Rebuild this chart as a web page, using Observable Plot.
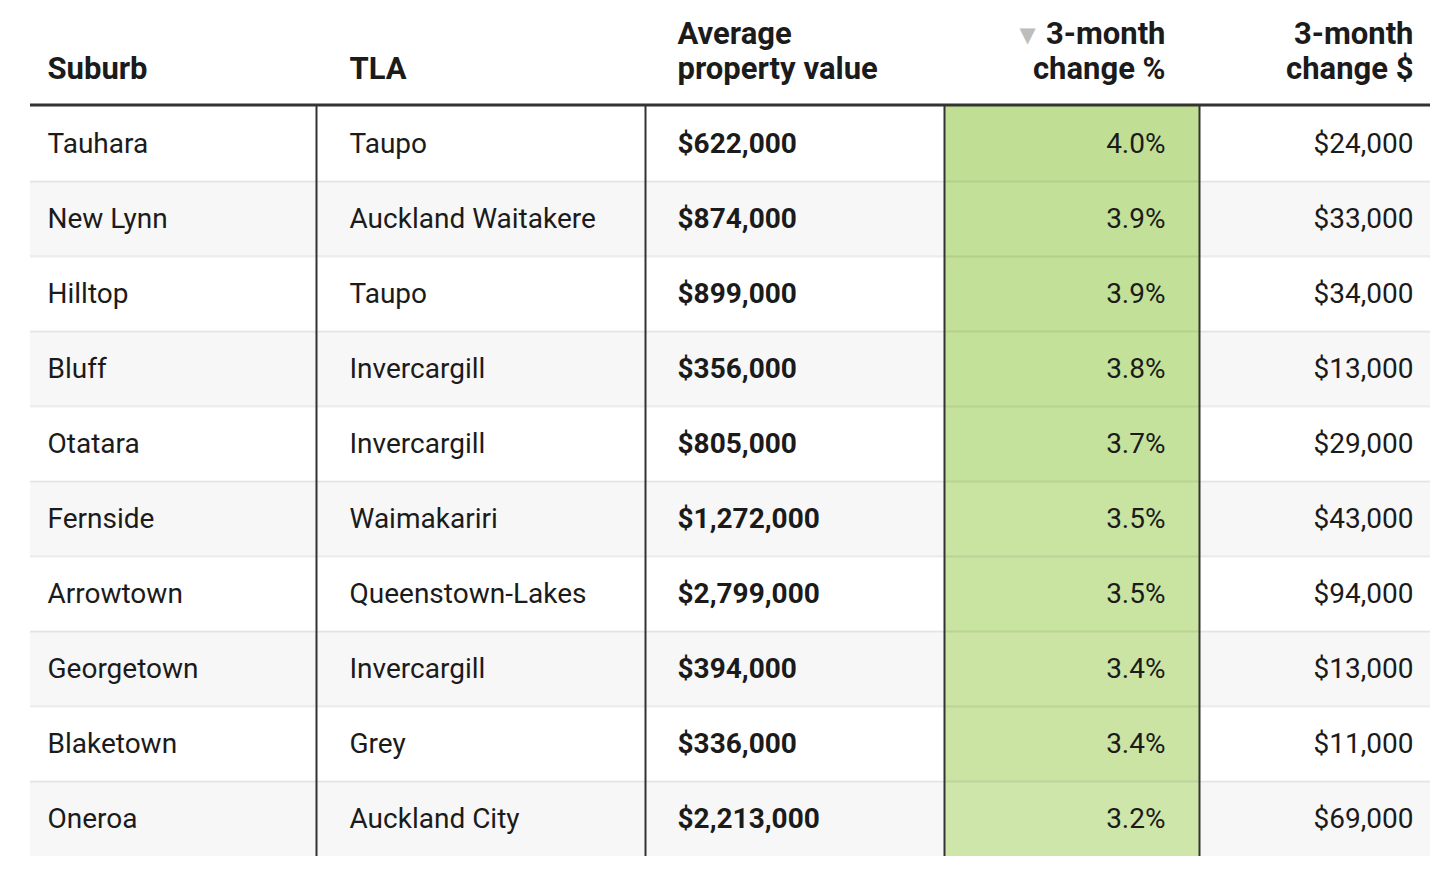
<!DOCTYPE html>
<html>
<head>
<meta charset="utf-8">
<script src="https://cdn.jsdelivr.net/npm/d3@7"></script>
<script src="https://cdn.jsdelivr.net/npm/@observablehq/plot@0.6"></script>
<style>
  html, body { margin: 0; padding: 0; background: #fff; }
  #chart svg { display: block; }
</style>
</head>
<body>
<div id="chart"></div>
<script>
// ---- data ----
const suburbs = ["Tauhara", "New Lynn", "Hilltop", "Bluff", "Otatara", "Fernside", "Arrowtown", "Georgetown", "Blaketown", "Oneroa"];
const tlas = ["Taupo", "Auckland Waitakere", "Taupo", "Invercargill", "Invercargill", "Waimakariri", "Queenstown-Lakes", "Invercargill", "Grey", "Auckland City"];
const avgValues = [622000, 874000, 899000, 356000, 805000, 1272000, 2799000, 394000, 336000, 2213000];
const changePct = [4.0, 3.9, 3.9, 3.8, 3.7, 3.5, 3.5, 3.4, 3.4, 3.2];
const changeDollar = [24000, 33000, 34000, 13000, 29000, 43000, 94000, 13000, 11000, 69000];
const headers = ["Suburb", "TLA", "Average\nproperty value", "3-month\nchange %", "3-month\nchange $"];

// ---- layout ----
const W = 1452, H = 884;
const tableLeft = 30, tableRight = 1430;
const colEdges = [316, 645, 944, 1199];        // vertical dividers
const colText = [47, 349, 677, 1165, 1413];     // text anchors
const colAnchor = ["start", "start", "start", "end", "end"];
const pctCol = [944, 1199];

const rows = suburbs.map((s, i) => ({
  i, suburb: s, tla: tlas[i], avg: avgValues[i], pct: changePct[i], dollar: changeDollar[i]
}));
const fmtMoney = v => "$" + d3.format(",")(v);
const fmtPct = v => d3.format(".1f")(v) + "%";

const headerRows = headers.map((h, k) => ({k, text: h}));

const fontFamily = "Roboto, 'Noto Sans', sans-serif";
const bodySize = 28;
const headSize = 31;
const textColor = "#1b1b1b";

const cellText = (accessor, col, opts = {}) => Plot.text(rows, {
  x: () => colText[col],
  y: d => d.i + 0.5,
  text: accessor,
  textAnchor: colAnchor[col],
  lineAnchor: "middle",
  fontFamily,
  fontSize: bodySize,
  fill: textColor,
  ...opts
});

const headerText = (anchor) => Plot.text(headerRows.filter(d => colAnchor[d.k] === anchor), {
  x: d => colText[d.k],
  y: () => -0.373,
  text: "text",
  textAnchor: anchor,
  lineAnchor: "bottom",
  lineHeight: 1.13,
  fontFamily,
  fontSize: headSize,
  fontWeight: "bold",
  fill: textColor
});

const chart = Plot.plot({
  width: W,
  height: H,
  margin: 0,
  x: {type: "linear", domain: [0, W], range: [0, W], axis: null},
  y: {type: "linear", domain: [0, suburbs.length], range: [106, 856], axis: null},
  color: {type: "linear", domain: [3.2, 4.0], range: ["#cee6a9", "#c0df94"]},
  marks: [
    // striped rows
    Plot.rect(rows.filter(d => d.i % 2 === 1), {
      x1: () => tableLeft, x2: () => tableRight, y1: d => d.i, y2: d => d.i + 1, fill: "#f7f7f7"
    }),
    // heat-coloured % cells
    Plot.rect(rows, {
      x1: () => pctCol[0], x2: () => pctCol[1], y1: d => d.i, y2: d => d.i + 1, fill: "pct"
    }),
    // row separators
    Plot.ruleY(rows.slice(1), {
      y: d => d.i, x1: () => tableLeft, x2: () => tableRight, stroke: "#000", strokeOpacity: 0.075, strokeWidth: 2
    }),
    // vertical dividers
    Plot.ruleX(colEdges, {
      x: d => d, y1: () => 0, y2: () => suburbs.length, stroke: "#333", strokeWidth: 2
    }),
    // header rule
    Plot.ruleY([0], {
      y: d => d, x1: () => tableLeft, x2: () => tableRight, stroke: "#333", strokeWidth: 3, dy: -1.5
    }),
    // header text
    headerText("start"),
    headerText("end"),
    // sort arrow
    Plot.text(["▼"], {
      x: () => 1027,
      y: () => -0.947,
      text: d => d,
      textAnchor: "middle",
      lineAnchor: "middle",
      fontFamily: "DejaVu Sans, sans-serif",
      fontSize: 21,
      fill: "#bdbdbd"
    }),
    // body cells
    cellText("suburb", 0),
    cellText("tla", 1),
    cellText(d => fmtMoney(d.avg), 2, {fontWeight: "bold"}),
    cellText(d => fmtPct(d.pct), 3),
    cellText(d => fmtMoney(d.dollar), 4)
  ]
});

document.getElementById("chart").appendChild(chart);
</script>
</body>
</html>
